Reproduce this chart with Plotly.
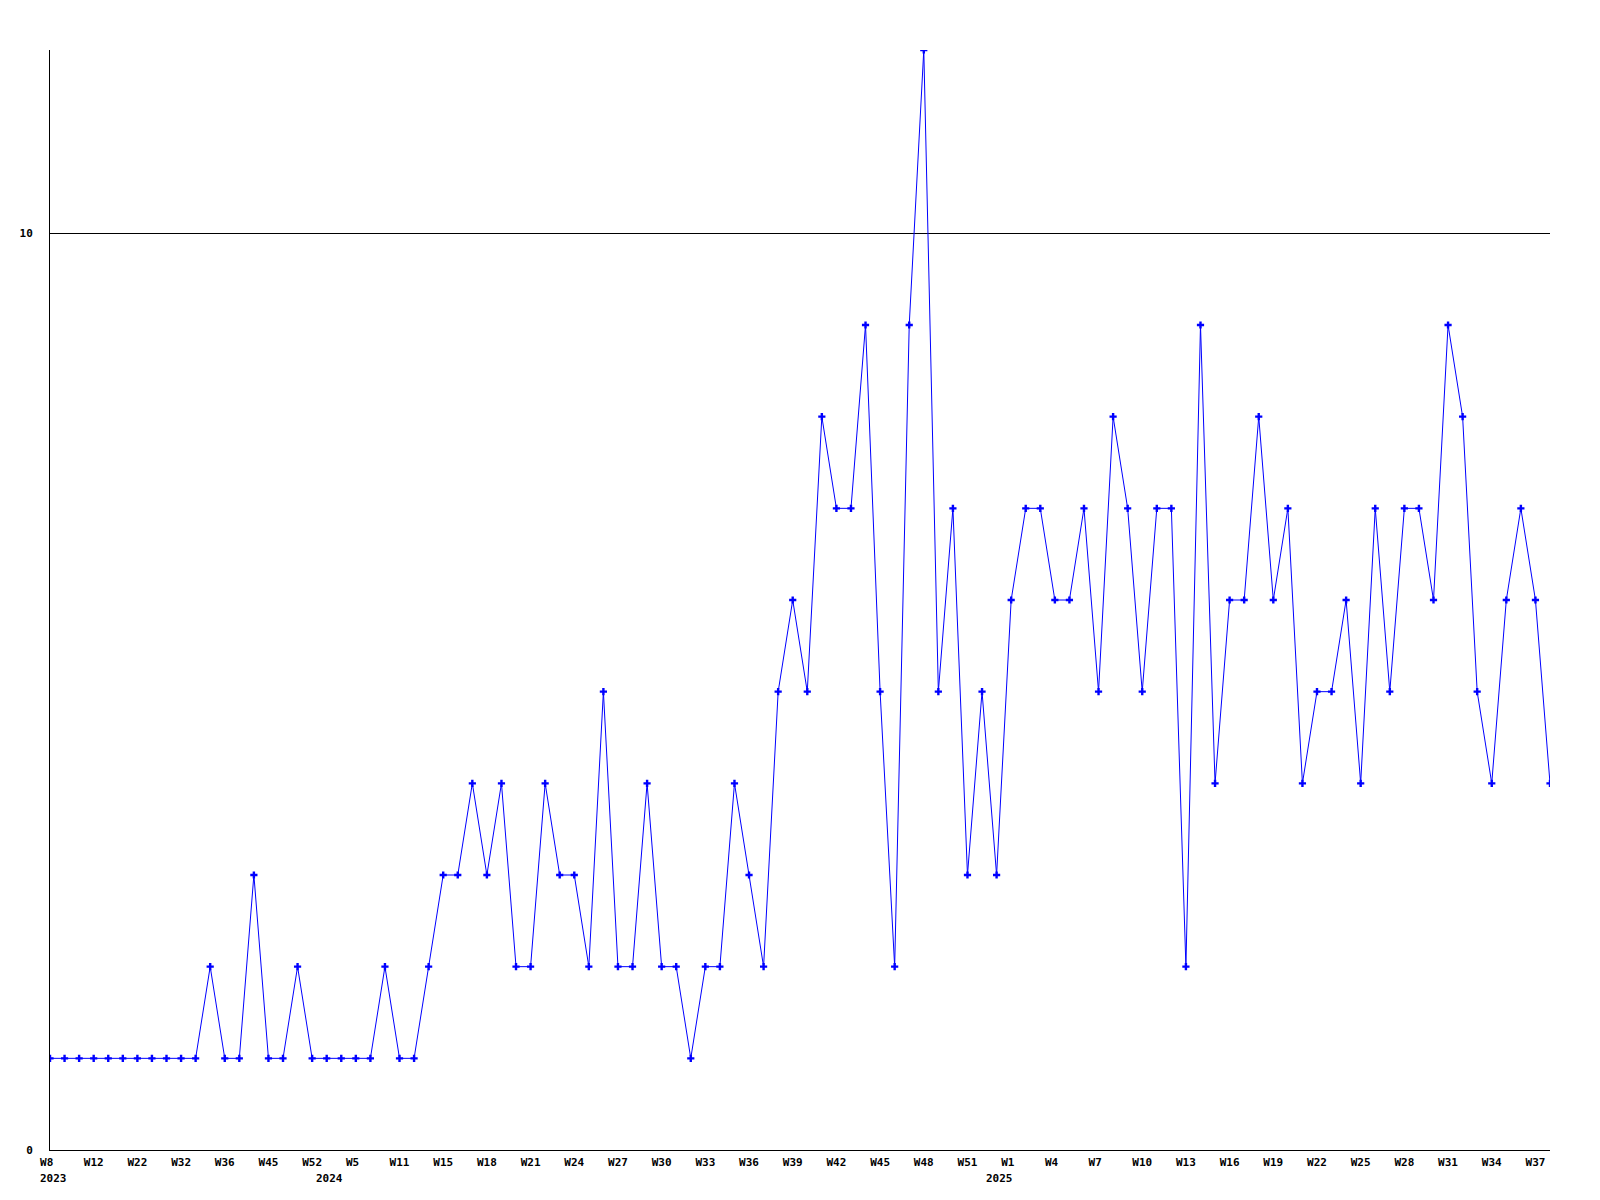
import plotly.graph_objects as go

# Weekly values (104 consecutive data points)
values = [1, 1, 1, 1, 1, 1, 1, 1, 1, 1, 1, 2, 1, 1, 3, 1, 1, 2, 1, 1,
          1, 1, 1, 2, 1, 1, 2, 3, 3, 4, 3, 4, 2, 2, 4, 3, 3, 2, 5, 2,
          2, 4, 2, 2, 1, 2, 2, 4, 3, 2, 5, 6, 5, 8, 7, 7, 9, 5, 2, 9,
          12, 5, 7, 3, 5, 3, 6, 7, 7, 6, 6, 7, 5, 8, 7, 5, 7, 7, 2, 9,
          4, 6, 6, 8, 6, 7, 4, 5, 5, 6, 4, 7, 5, 7, 7, 6, 9, 8, 5, 4,
          6, 7, 6, 4]

# Week tick labels, one every third point
tick_labels = ["W8", "W12", "W22", "W32", "W36", "W45", "W52", "W5",
               "W11", "W15", "W18", "W21", "W24", "W27", "W30", "W33", "W36", "W39",
               "W42", "W45", "W48", "W51", "W1", "W4", "W7", "W10", "W13",
               "W16", "W19", "W22", "W25", "W28", "W31", "W34", "W37"]

# Year labels and the point index where each year starts
years = ["2023", "2024", "2025"]
year_start_idx = [0, 19, 65]

x = list(range(len(values)))
tick_pos = x[::3][:len(tick_labels)]
# pad short labels so they sit like the original (text box of 3 chars)
tick_text = [t + "\u00a0" * (3 - len(t)) for t in tick_labels]

font = dict(family="DejaVu Sans Mono", size=11, color="black", weight="bold")

fig = go.Figure(go.Scatter(
    x=x, y=values, mode="lines+markers",
    line=dict(color="#0000ff", width=1),
    marker=dict(color="#0000ff", symbol="cross", size=6, line=dict(width=0)),
    hoverinfo="skip",
))

fig.update_layout(
    width=1600, height=1200,
    margin=dict(l=42, r=58, t=42, b=58),
    paper_bgcolor="white", plot_bgcolor="white",
    showlegend=False,
    font=font,
)
for yr, idx in zip(years, year_start_idx):
    fig.add_annotation(
        x=idx, xref="x", y=0, yref="paper",
        text=yr, showarrow=False, font=font,
        xanchor="center", yanchor="middle",
        xshift=3, yshift=-28,
    )
fig.update_xaxes(
    range=[0, len(values) - 1],
    tickvals=tick_pos, ticktext=tick_text,
    tickfont=font, tickangle=0,
    showgrid=False, zeroline=False,
    showline=True, linecolor="black", linewidth=1,
    ticks="", ticklabelstandoff=2,
)
fig.update_yaxes(
    range=[0, 12],
    tickvals=[0, 10], ticktext=["0", "10"],
    tickfont=font,
    showgrid=True, gridcolor="black", gridwidth=1,
    zeroline=False,
    showline=True, linecolor="black", linewidth=1,
    ticks="", ticklabelstandoff=14,
)

fig.write_html("out.html")
